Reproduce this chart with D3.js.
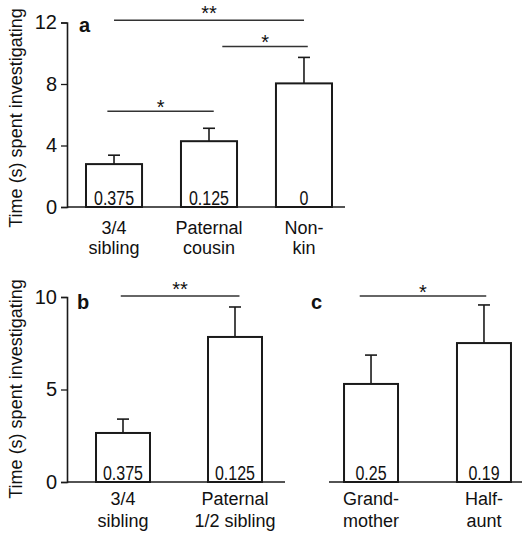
<!DOCTYPE html>
<html>
<head>
<meta charset="utf-8">
<script src="https://cdn.jsdelivr.net/npm/d3@7"></script>
<style>
  body { margin: 0; background: #fff; }
  svg { display: block; font-family: "Liberation Sans", Arial, sans-serif; }
</style>
</head>
<body>
<svg id="chart" width="522" height="533"></svg>
<script>
// panel a
const catsA = [["3/4", "sibling"], ["Paternal", "cousin"], ["Non-", "kin"]];
const meansA = [2.79, 4.28, 8.04];
const semA = [0.58, 0.84, 1.69];
const relA = ["0.375", "0.125", "0"];
const ticksA = [0, 4, 8, 12];
// [from index, to index, y value, label]
const sigA = [[0, 2, 12.14, "**"], [1.14, 2.04, 10.44, "*"], [-0.07, 1.05, 6.23, "*"]];

// panel b
const catsB = [["3/4", "sibling"], ["Paternal", "1/2 sibling"]];
const meansB = [2.65, 7.84];
const semB = [0.75, 1.62];
const relB = ["0.375", "0.125"];
const ticksB = [0, 5, 10];
const sigB = [[-0.02, 1.04, 10.05, "**"]];

// panel c
const catsC = [["Grand-", "mother"], ["Half-", "aunt"]];
const meansC = [5.3, 7.51];
const semC = [1.56, 2.06];
const relC = ["0.25", "0.19"];
const sigC = [[-0.1, 1.02, 10.05, "*"]];

const svg = d3.select("#chart");
const ink = "#1a1a1a";

let drawPanel = function (p) {
  let g = svg.append("g");

  let x = d3.scaleBand()
    .domain(d3.range(p.cats.length))
    .range(p.xRange)
    .paddingInner(p.padIn)
    .paddingOuter(p.padOut);

  let y = d3.scaleLinear().domain(p.yDomain).range(p.yRange);

  // x axis line
  g.append("line")
    .attr("x1", p.axisX[0]).attr("x2", p.axisX[1])
    .attr("y1", y(0)).attr("y2", y(0))
    .attr("stroke", ink).attr("stroke-width", 1.6);

  // y axis
  if (p.ticks) {
    let yAxis = g.append("g")
      .attr("transform", `translate(${p.axisX[0]},0)`)
      .call(d3.axisLeft(y).tickValues(p.ticks).tickSize(6).tickPadding(4));
    yAxis.select(".domain").attr("stroke", ink).attr("stroke-width", 1.6);
    yAxis.selectAll(".tick line").attr("stroke", ink).attr("stroke-width", 1.3);
    yAxis.selectAll(".tick text")
      .attr("fill", "#111")
      .style("font-size", "20px")
      .style("font-family", "'Liberation Sans', Arial, sans-serif");

    g.append("text")
      .attr("transform", `translate(22,${p.labelY}) rotate(-90)`)
      .attr("text-anchor", "middle")
      .attr("fill", "#111")
      .style("font-size", "18px")
      .text("Time (s) spent investigating");
  }

  // error bars (upward only)
  let err = g.selectAll("g.err")
    .data(p.means)
    .enter().append("g").attr("class", "err");
  err.append("line")
    .attr("x1", (d, i) => x(i) + x.bandwidth() / 2)
    .attr("x2", (d, i) => x(i) + x.bandwidth() / 2)
    .attr("y1", d => y(d))
    .attr("y2", (d, i) => y(d + p.sem[i]))
    .attr("stroke", ink).attr("stroke-width", 1.6);
  err.append("line")
    .attr("x1", (d, i) => x(i) + x.bandwidth() / 2 - 6)
    .attr("x2", (d, i) => x(i) + x.bandwidth() / 2 + 6)
    .attr("y1", (d, i) => y(d + p.sem[i]))
    .attr("y2", (d, i) => y(d + p.sem[i]))
    .attr("stroke", ink).attr("stroke-width", 1.6);

  // bars
  g.selectAll("rect.bar")
    .data(p.means)
    .enter().append("rect")
      .attr("class", "bar")
      .attr("x", (d, i) => x(i))
      .attr("width", x.bandwidth())
      .attr("y", d => y(d))
      .attr("height", d => y(0) - y(d))
      .attr("fill", "#fff")
      .attr("stroke", ink).attr("stroke-width", 2);

  // relatedness inside bars, squeezed to look like a narrow face
  g.selectAll("text.rel")
    .data(p.rel)
    .enter().append("text")
      .attr("class", "rel")
      .attr("x", (d, i) => x(i) + x.bandwidth() / 2)
      .attr("y", y(0) - 2.5)
      .attr("text-anchor", "middle")
      .attr("fill", "#111")
      .style("font-size", "20px")
      .text(d => d)
      .each(function () {
        let len = this.getComputedTextLength();
        d3.select(this)
          .attr("textLength", len * 0.8)
          .attr("lengthAdjust", "spacingAndGlyphs");
      });

  // category labels
  let cat = g.selectAll("text.cat")
    .data(p.cats)
    .enter().append("text")
      .attr("class", "cat")
      .attr("text-anchor", "middle")
      .attr("fill", "#111")
      .style("font-size", "18px");
  cat.selectAll("tspan")
    .data((d, i) => d.map(s => ({ s: s, i: i })))
    .enter().append("tspan")
      .attr("x", d => x(d.i) + x.bandwidth() / 2)
      .attr("y", (d, j) => y(0) + p.catDy + j * p.catLine)
      .text(d => d.s);

  // significance brackets
  let cx = d3.scaleLinear()
    .domain([0, 1])
    .range([x(0) + x.bandwidth() / 2, x(1) + x.bandwidth() / 2]);
  let sig = g.selectAll("g.sig")
    .data(p.sig)
    .enter().append("g").attr("class", "sig");
  sig.append("line")
    .attr("x1", d => cx(d[0])).attr("x2", d => cx(d[1]))
    .attr("y1", d => y(d[2])).attr("y2", d => y(d[2]))
    .attr("stroke", "#333").attr("stroke-width", 1.5);
  sig.append("text")
    .attr("x", d => (cx(d[0]) + cx(d[1])) / 2)
    .attr("y", d => y(d[2]) - (d[3].length > 1 ? 0 : -3))
    .attr("text-anchor", "middle")
    .attr("fill", "#111")
    .style("font-size", "20px")
    .text(d => d[3]);

  // panel letter
  g.append("text")
    .attr("x", p.letterX).attr("y", p.letterY)
    .attr("fill", "#111")
    .style("font-size", "20px")
    .style("font-weight", "bold")
    .text(p.letter);
};

drawPanel({
  cats: catsA, means: meansA, sem: semA, rel: relA, ticks: ticksA, sig: sigA,
  xRange: [67, 351], padIn: 0.41, padOut: 0.2, axisX: [67, 345],
  yDomain: [0, 12], yRange: [207, 22.5], labelY: 118,
  catDy: 27, catLine: 20, letter: "a", letterX: 79, letterY: 32
});

drawPanel({
  cats: catsB, means: meansB, sem: semB, rel: relB, ticks: ticksB, sig: sigB,
  xRange: [67, 291], padIn: 0.518, padOut: 0.259, axisX: [67, 285],
  yDomain: [0, 10], yRange: [482, 297], labelY: 389,
  catDy: 23, catLine: 22, letter: "b", letterX: 77, letterY: 309
});

drawPanel({
  cats: catsC, means: meansC, sem: semC, rel: relC, ticks: null, sig: sigC,
  xRange: [329, 526], padIn: 0.522, padOut: 0.133, axisX: [329, 522],
  yDomain: [0, 10], yRange: [482, 297], labelY: 389,
  catDy: 23, catLine: 22, letter: "c", letterX: 311, letterY: 309
});
</script>
</body>
</html>
